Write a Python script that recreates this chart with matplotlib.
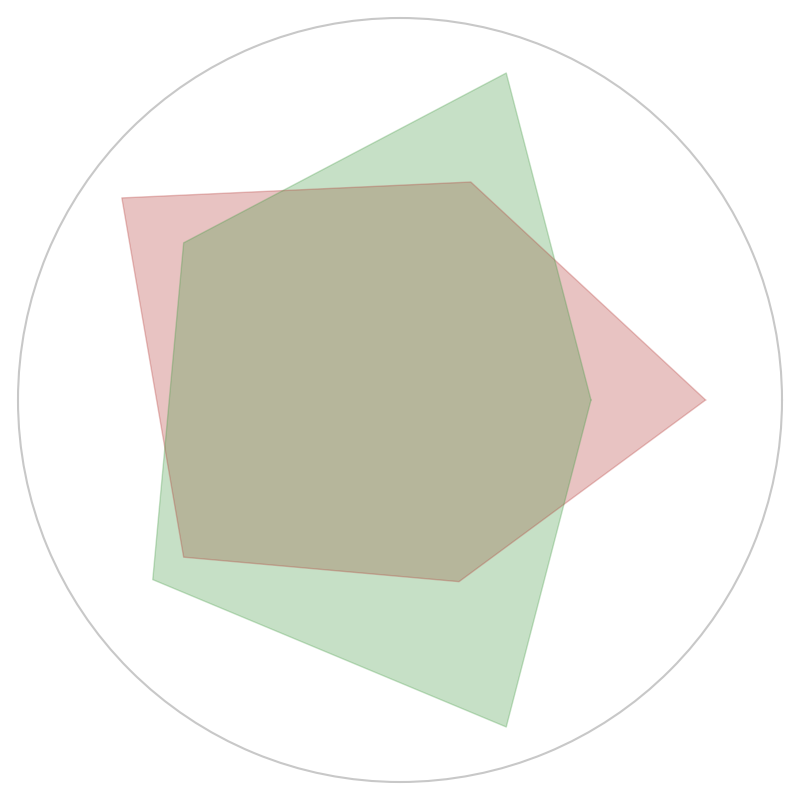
import numpy as np
import matplotlib
matplotlib.use("Agg")
import matplotlib.pyplot as plt

categories = ["A", "B", "C", "D", "E"]
series_red = [0.80, 0.60, 0.90, 0.70, 0.50]
series_green = [0.50, 0.90, 0.70, 0.80, 0.90]

n = len(categories)
angles = np.linspace(0, 2 * np.pi, n, endpoint=False).tolist()
angles_closed = angles + angles[:1]

fig = plt.figure(figsize=(8, 8), dpi=100)
ax = fig.add_axes([0.0225, 0.0225, 0.955, 0.955], projection="polar")

red = (182 / 255, 58 / 255, 55 / 255)
green = (68 / 255, 155 / 255, 68 / 255)

for vals, col in [(series_red, red), (series_green, green)]:
    v = vals + vals[:1]
    ax.fill(angles_closed, v, color=col, alpha=0.3, linewidth=0)
    ax.plot(angles_closed, v, color=col, alpha=0.3, linewidth=1)

ax.set_ylim(0, 1)
ax.set_xticks([])
ax.set_yticks([])
ax.grid(False)
ax.spines["polar"].set_color("#c8c8c8")
ax.spines["polar"].set_linewidth(1.5)

fig.savefig("out.png", dpi=100)
